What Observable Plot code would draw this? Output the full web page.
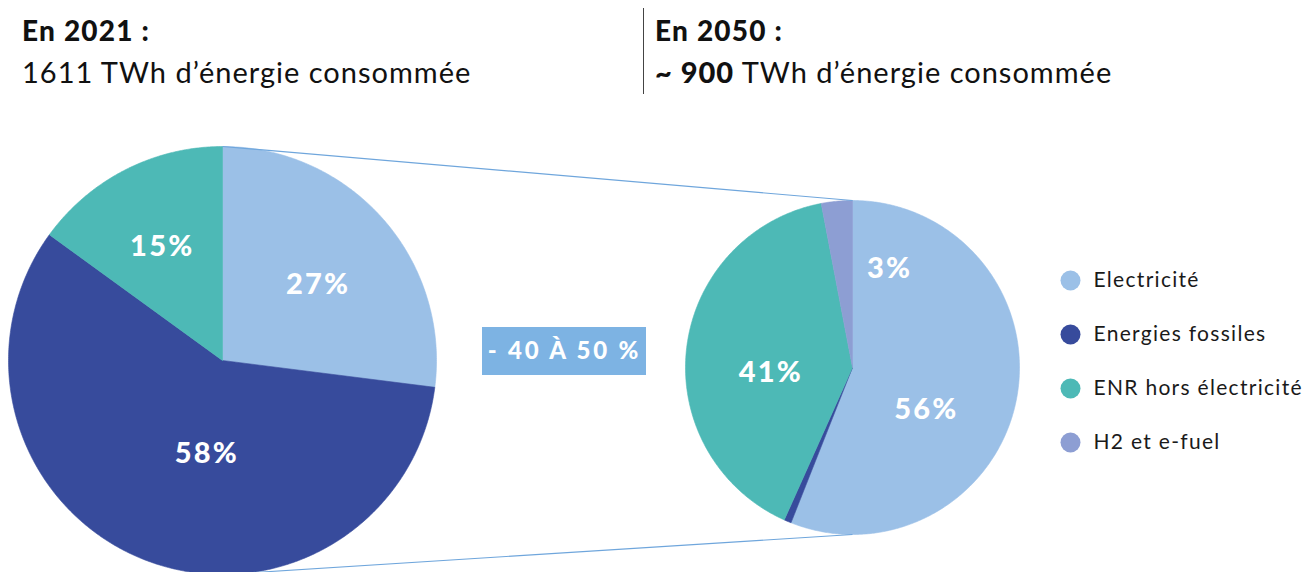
<!DOCTYPE html>
<html><head><meta charset="utf-8">
<script src="https://cdn.jsdelivr.net/npm/d3@7"></script>
<script src="https://cdn.jsdelivr.net/npm/@observablehq/plot@0.6"></script>
<style>
body{margin:0;background:#fff;width:1307px;height:572px;overflow:hidden;font-family:Lato,"Noto Sans",sans-serif;}
#header{position:relative;height:100px;}
.t{position:absolute;white-space:nowrap;color:#111;}
.h{font-weight:900;font-size:28px;line-height:30px;letter-spacing:1.2px;}
.s{font-size:29px;line-height:34px;font-weight:400;letter-spacing:1px;}
.s b{font-weight:900;}
.divider{position:absolute;left:643px;top:8px;width:1px;height:86px;background:#444;}
.pielbl text{letter-spacing:2.2px;}
.boxlbl text{letter-spacing:2.8px;}
.leglbl text{letter-spacing:1.3px;}
</style></head><body>
<div id="header">
 <div class="t h" style="left:22px;top:15px">En 2021 :</div>
 <div class="t s" style="left:22px;top:55px">1611 TWh d’énergie consommée</div>
 <div class="divider"></div>
 <div class="t h" style="left:655px;top:15px">En 2050 :</div>
 <div class="t s" style="left:655px;top:55px"><b>~ 900</b> TWh d’énergie consommée</div>
</div>
<div id="chart"></div>
<script>
const categories = ["Electricité","Energies fossiles","ENR hors électricité","H2 et e-fuel"];
const values2021 = [27,58,15,0];
const values2050 = [56,0.7,40.3,3];
const labels2021 = ["27%","58%","15%",""];
const labels2050 = ["56%","","41%","3%"];
const colors = ["#9bc0e7","#374b9c","#4db9b6","#8d9ed3"];
const reductionLabel = "- 40 À 50 %";

// layout
const W = 1307, H = 472;
const pies = [
  {year:"2021", values: values2021, labels: labels2021, cx:222, cy:260, r:214,
   labelLayout:[[3,0.57],[-12,0.44],[-1,0.6],[0,0]]},
  {year:"2050", values: values2050, labels: labels2050, cx:852, cy:267, r:167,
   labelLayout:[[19,0.51],[0,0],[-10,0.49],[26,0.63]]}
];
const box = {cx:564, cy:251, w:164, h:48};
const legend = {x:1070, y0:180, dy:54, tx:1093};

const slicePts = [], labelPts = [];
for (const p of pies) {
  let acc = 0;
  const total = d3.sum(p.values);
  p.values.forEach((v, i) => {
    if (v <= 0) return;
    const a0 = acc / total * 2 * Math.PI, a1 = (acc + v) / total * 2 * Math.PI;
    acc += v;
    const id = p.year + "-" + i;
    slicePts.push({id, cat: categories[i], x: p.cx, y: p.cy});
    const n = Math.max(2, Math.ceil((a1 - a0) / (Math.PI / 360)));
    for (let k = 0; k <= n; k++) {
      const a = a0 + (a1 - a0) * k / n;
      slicePts.push({id, cat: categories[i], x: p.cx + p.r * Math.sin(a), y: p.cy - p.r * Math.cos(a)});
    }
    slicePts.push({id, cat: categories[i], x: p.cx, y: p.cy});
    if (p.labels[i]) {
      const [shift, frac] = p.labelLayout[i];
      const am = (a0 + a1) / 2 + shift * Math.PI / 180;
      labelPts.push({text: p.labels[i], x: p.cx + frac * p.r * Math.sin(am), y: p.cy - frac * p.r * Math.cos(am)});
    }
  });
}
const links = [
  {x1: pies[0].cx, y1: pies[0].cy - pies[0].r, x2: pies[1].cx, y2: pies[1].cy - pies[1].r},
  {x1: pies[0].cx, y1: pies[0].cy + pies[0].r, x2: pies[1].cx, y2: pies[1].cy + pies[1].r}
];
const legendData = categories.map((c, i) => ({cat: c, x: legend.x, tx: legend.tx, y: legend.y0 + i * legend.dy}));

const chart = Plot.plot({
  width: W, height: H,
  margin: 0,
  x: {domain: [0, W], range: [0, W], axis: null},
  y: {domain: [0, H], range: [0, H], axis: null},
  color: {domain: categories, range: colors},
  style: {fontFamily: "Lato, 'Noto Sans', sans-serif", background: "white", overflow: "hidden"},
  marks: [
    Plot.line(slicePts, {x: "x", y: "y", z: "id", fill: "cat", stroke: "cat", strokeWidth: 0.6, curve: "linear"}),
    Plot.link(links, {x1: "x1", y1: "y1", x2: "x2", y2: "y2", stroke: "#6fa6dc", strokeWidth: 1.2}),
    Plot.text(labelPts, {x: "x", y: "y", text: "text", fill: "white", fontSize: 29, fontWeight: 900, textAnchor: "middle", lineAnchor: "middle", className: "pielbl"}),
    Plot.rect([box], {x1: d => d.cx - d.w / 2, x2: d => d.cx + d.w / 2, y1: d => d.cy - d.h / 2, y2: d => d.cy + d.h / 2, fill: "#7db3e3"}),
    Plot.text([box], {x: "cx", y: "cy", text: () => reductionLabel, fill: "white", fontSize: 24, fontWeight: 900, textAnchor: "middle", lineAnchor: "middle", className: "boxlbl"}),
    Plot.dot(legendData, {x: "x", y: "y", r: 10, fill: "cat", stroke: null}),
    Plot.text(legendData, {x: "tx", y: "y", text: "cat", fill: "#1a1a1a", fontSize: 21, textAnchor: "start", lineAnchor: "middle", className: "leglbl"})
  ]
});
document.getElementById("chart").appendChild(chart);
</script>
</body></html>
